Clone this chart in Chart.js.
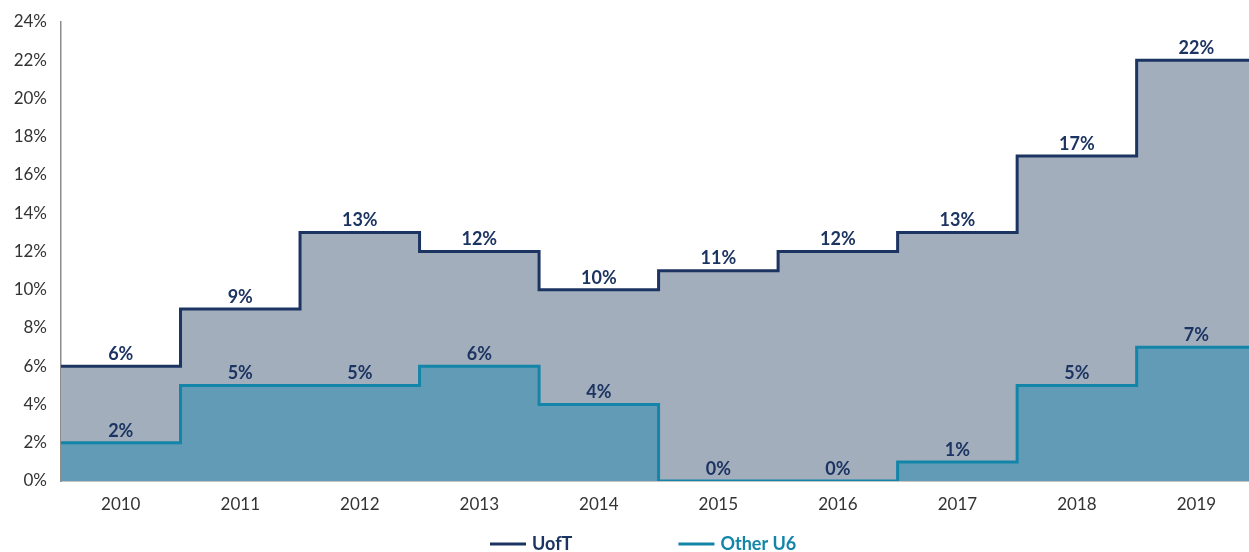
<!DOCTYPE html>
<html>
<head>
<meta charset="utf-8">
<script src="https://cdn.jsdelivr.net/npm/chart.js@4.4.1/dist/chart.umd.min.js"></script>
<style>
  html, body { margin: 0; padding: 0; background: #fff; }
  #wrap { width: 1249px; height: 552px; }
</style>
</head>
<body>
<div id="wrap"><canvas id="chart"></canvas></div>
<script>
// chart data
const years = ['2010', '2011', '2012', '2013', '2014', '2015', '2016', '2017', '2018', '2019'];
const uoft = [6, 9, 13, 12, 10, 11, 12, 13, 17, 22];
const otherU6 = [2, 5, 5, 6, 4, 0, 0, 1, 5, 7];
const yTicks = [0, 2, 4, 6, 8, 10, 12, 14, 16, 18, 20, 22, 24];

const NAVY = '#1c3461';
const TEAL = '#1385a8';
const FONT = 'Lato, "Open Sans", sans-serif';

// each year is a flat step across its whole category band
function toSteps(values) {
    const pts = values.map((v, i) => ({ x: i - 0.5, y: v }));
    pts.push({ x: values.length - 0.5, y: values[values.length - 1] });
    return pts;
}

const stepLabels = {
    id: 'stepLabels',
    afterDatasetsDraw(chart) {
        const { ctx, scales } = chart;
        ctx.save();
        ctx.font = 'bold 18px ' + FONT;
        ctx.fillStyle = NAVY;
        ctx.textAlign = 'center';
        ctx.textBaseline = 'bottom';
        [uoft, otherU6].forEach(values => {
            values.forEach((v, i) => {
                ctx.fillText(v + '%', scales.x.getPixelForValue(i), scales.y.getPixelForValue(v) - 3);
            });
        });
        ctx.restore();
    }
};

const bottomLegend = {
    id: 'bottomLegend',
    afterDraw(chart) {
        const { ctx } = chart;
        const items = [
            { text: 'UofT', color: NAVY },
            { text: 'Other U6', color: TEAL }
        ];
        const lineW = 36, gapText = 6, gapItem = 106;
        ctx.save();
        ctx.font = 'bold 18px ' + FONT;
        ctx.textBaseline = 'middle';
        ctx.textAlign = 'left';
        let x = 490;
        const y = 544;
        items.forEach(it => {
            ctx.strokeStyle = it.color;
            ctx.lineWidth = 3;
            ctx.beginPath();
            ctx.moveTo(x, y);
            ctx.lineTo(x + lineW, y);
            ctx.stroke();
            ctx.fillStyle = it.color;
            ctx.fillText(it.text, x + lineW + gapText, y);
            x += lineW + gapText + ctx.measureText(it.text).width + gapItem;
        });
        ctx.restore();
    }
};

new Chart(document.getElementById('chart'), {
    type: 'line',
    data: {
        datasets: [
            {
                label: 'UofT',
                data: toSteps(uoft),
                stepped: true,
                borderColor: NAVY,
                borderWidth: 3,
                backgroundColor: '#a3aebd',
                fill: 'origin',
                pointRadius: 0,
                order: 2
            },
            {
                label: 'Other U6',
                data: toSteps(otherU6),
                stepped: true,
                borderColor: TEAL,
                borderWidth: 3,
                backgroundColor: '#619bb6',
                fill: 'origin',
                pointRadius: 0,
                order: 1
            }
        ]
    },
    options: {
        responsive: true,
        maintainAspectRatio: false,
        animation: false,
        layout: { padding: { top: 22, right: 0, bottom: 36, left: 0 } },
        plugins: {
            legend: { display: false },
            tooltip: { enabled: false }
        },
        scales: {
            x: {
                type: 'linear',
                min: -0.5,
                // the last band runs slightly past the right edge in the original
                max: years.length - 0.56,
                afterBuildTicks: axis => { axis.ticks = years.map((y, i) => ({ value: i })); },
                afterFit: axis => { axis.height = 35; },
                ticks: {
                    callback: v => years[v],
                    color: '#333',
                    font: { family: FONT, size: 17 },
                    padding: 5,
                    maxRotation: 0
                },
                grid: { display: false },
                border: { display: true, color: '#8c8c8c', width: 1.5 }
            },
            y: {
                min: 0,
                max: 24,
                afterBuildTicks: axis => { axis.ticks = yTicks.map(v => ({ value: v })); },
                afterFit: axis => { axis.width = 61; },
                ticks: {
                    callback: v => v + '%',
                    color: '#333',
                    font: { family: FONT, size: 17 },
                    padding: 6
                },
                grid: { display: false },
                border: { display: true, color: '#8c8c8c', width: 1.5 }
            }
        }
    },
    plugins: [stepLabels, bottomLegend]
});
</script>
</body>
</html>
